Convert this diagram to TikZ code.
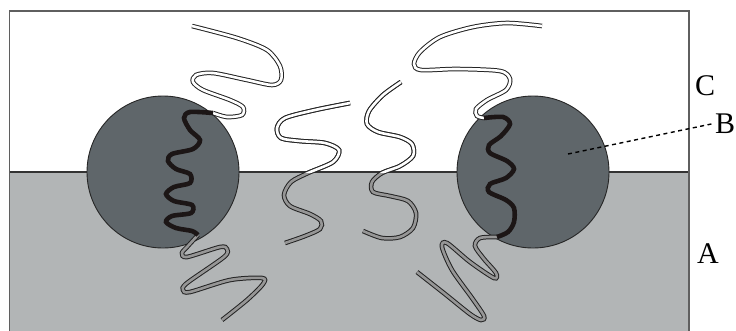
\documentclass[tikz,border=0pt]{standalone}
\usepackage{fontspec}
\setmainfont{Liberation Serif}
\begin{document}
\definecolor{phaseA}{RGB}{178,181,182}
\definecolor{particle}{RGB}{95,102,106}
\definecolor{chaingray}{RGB}{150,150,150}
\definecolor{chainedge}{RGB}{35,35,35}
\definecolor{anchorblk}{RGB}{28,22,22}
\definecolor{frame}{RGB}{95,95,95}
\begin{tikzpicture}[x=1pt,y=-1pt,
  chainline/.style={line width=1pt, draw=chainedge, double distance=2.6pt},
  upperchain/.style={chainline, double=white},
  lowerchain/.style={chainline, double=chaingray},
  anchorpart/.style={draw=anchorblk, line width=4.6pt},
  ball/.style={circle, draw=black!85, line width=0.9pt, fill=particle, minimum size=152pt, inner sep=0pt},
  letter/.style={inner sep=0pt, font=\fontsize{30}{34}\selectfont}]
\useasboundingbox (0,0) rectangle (736,330);

% lower phase and interface
\fill[phaseA] (9.5,172) rectangle (689,334);
\draw[black!80, line width=1.1pt] (9.5,172) -- (689,172);
\draw[frame, line width=1.8pt] (9.5,334) -- (9.5,11) -- (689,11) -- (689,334);

% particles at the interface
\node[ball] (ballL) at (163,172) {};
\node[ball] (ballR) at (533,172) {};

% chain paths
\def\chainLup{plot[smooth] coordinates {(192,26) (237,38) (267,50) (280,66) (281,80) (272,85) (247,80) (213,73) (196,75) (193,82) (203,90) (230,100) (243,107) (242,115) (227,117) (213,113)}}
\def\chainLmid{plot[smooth] coordinates {(213,113) (190,112) (184,118) (190,130) (200,140) (193,149) (172,154) (168,161) (176,169) (190,174) (190,183) (174,187) (166,194) (174,201) (192,205) (191,213) (172,216) (166,222) (176,228) (192,231) (198,235)}}
\def\chainLlow{plot[smooth] coordinates {(198,235) (187,247) (182,253) (187,257) (220,247) (227,249) (224,257) (187,283) (183,290) (190,292) (230,280) (262,278) (263,284) (247,300) (222,320)}}
\def\chainB{plot[smooth] coordinates {(350,103) (315,110) (285,118) (277,128) (281,138) (300,141) (325,143) (339,150) (333,162) (308,173) (291,182) (284,195) (290,206) (310,214) (321,221) (320,229) (305,236) (285,243)}}
\def\chainC{plot[smooth] coordinates {(401,82) (383,95) (369,111) (367,124) (378,132) (400,137) (412,144) (413,156) (400,166) (382,173) (372,182) (373,192) (390,196) (408,201) (416,213) (413,228) (400,237) (382,238) (363,231)}}
\def\chainRup{plot[smooth] coordinates {(542,26) (507,23) (473,27) (440,37) (420,52) (414,64) (421,70) (457,69) (500,71) (510,79) (506,90) (487,100) (476,109) (477,116) (484,118)}}
\def\chainRmid{plot[smooth] coordinates {(484,118) (503,117) (510,124) (501,136) (489,145) (490,153) (507,161) (514,169) (506,178) (490,184) (489,192) (506,200) (514,208) (514,222) (508,232) (497,237)}}
\def\chainRlow{plot[smooth] coordinates {(497,237) (480,238) (475,246) (484,259) (496,273) (494,278) (470,262) (447,243) (442,247) (452,270) (472,298) (484,316) (481,320) (470,314) (445,294) (417,272)}}

% free chains crossing the interface
\draw[lowerchain] \chainB;
\draw[lowerchain] \chainC;
\begin{scope}
  \clip (0,0) rectangle (736,172);
  \draw[upperchain] \chainB;
  \draw[upperchain] \chainC;
\end{scope}

% chains anchored in the particles
\draw[upperchain] \chainLup;
\draw[lowerchain] \chainLlow;
\draw[anchorpart] \chainLmid;
\draw[upperchain] \chainRup;
\draw[lowerchain] \chainRlow;
\draw[anchorpart] \chainRmid;

% labels
\node[letter, anchor=base west] (labC) at (695,95) {C};
\node[letter, anchor=base west] (labB) at (715,133) {B};
\node[letter, anchor=base west] (labA) at (697,263) {A};
\coordinate (bpoint) at (568,154);
\draw[black, line width=1.4pt, dash pattern=on 4pt off 3.5pt, shorten >=3pt] (bpoint) -- (labB.west);
\end{tikzpicture}
\end{document}
